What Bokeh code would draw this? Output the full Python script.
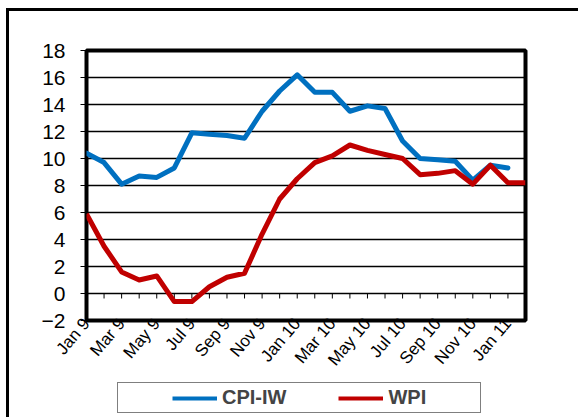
from bokeh.plotting import figure
from bokeh.layouts import column
from bokeh.models import Legend, LegendItem, FixedTicker
from bokeh.embed import file_html
from bokeh.resources import INLINE

# ---- data ----
tick_labels = ["Jan 9", "Mar 9", "May 9", "Jul 9", "Sep 9", "Nov 9",
               "Jan 10", "Mar 10", "May 10", "Jul 10", "Sep 10", "Nov 10", "Jan 11"]
cpi_iw = [10.4, 9.7, 8.1, 8.7, 8.6, 9.3, 11.9, 11.8, 11.7, 11.5, 13.5, 15.0, 16.2,
          14.9, 14.9, 13.5, 13.9, 13.7, 11.3, 10.0, 9.9, 9.8, 8.4, 9.5, 9.3]
wpi = [5.9, 3.5, 1.6, 1.0, 1.3, -0.6, -0.6, 0.5, 1.2, 1.5, 4.4, 7.0, 8.5,
       9.7, 10.2, 11.0, 10.6, 10.3, 10.0, 8.8, 8.9, 9.1, 8.1, 9.5, 8.2, 8.2]
y_ticks = [-2, 0, 2, 4, 6, 8, 10, 12, 14, 16, 18]
series_names = ["CPI-IW", "WPI"]
series_colors = ["#0070C0", "#C00000"]

n_months = len(wpi)
month_idx = list(range(n_months))
FONT = "Liberation Sans"
frame_styles = {"margin-left": "6px", "border-left": "3px solid black"}
BORDER_L, BORDER_R = 77, 56

# ---------------- main chart ----------------
p = figure(width=572, height=367, output_backend="svg", toolbar_location=None,
           x_range=(0, n_months - 1), y_range=(y_ticks[0], y_ticks[-1]),
           min_border_left=BORDER_L, min_border_right=BORDER_R, min_border_top=39,
           min_border_bottom=55)
p.styles = dict(frame_styles, **{"margin-top": "8px", "border-top": "3px solid black"})
p.background_fill_color = "white"
p.border_fill_color = "white"
p.outline_line_color = "black"
p.outline_line_width = 4

p.xgrid.visible = False
p.ygrid.ticker = FixedTicker(ticks=y_ticks)
p.ygrid.grid_line_color = "black"
p.ygrid.grid_line_width = 1.5

p.yaxis.ticker = FixedTicker(ticks=y_ticks)
p.yaxis.axis_line_color = None
p.yaxis.major_tick_out = 6
p.yaxis.major_tick_in = 0
p.yaxis.major_tick_line_color = "black"
p.yaxis.minor_tick_line_color = None
p.yaxis.major_label_standoff = 15
p.yaxis.major_label_text_font = FONT
p.yaxis.major_label_text_font_size = "21px"
p.yaxis.major_label_text_color = "black"

label_pos = month_idx[::2]
p.xaxis.ticker = FixedTicker(ticks=label_pos)
p.xaxis.major_label_overrides = {i: lab for i, lab in zip(label_pos, tick_labels)}
p.xaxis.major_label_orientation = 0.87
p.xaxis.axis_line_color = None
p.xaxis.major_tick_out = 0
p.xaxis.major_tick_in = 0
p.xaxis.minor_tick_line_color = None
p.xaxis.major_label_standoff = 0
p.xaxis.major_label_text_font = FONT
p.xaxis.major_label_text_font_size = "17px"
p.xaxis.major_label_text_color = "black"

# month tick marks hanging from the zero line
p.segment(x0=month_idx, y0=[0] * n_months, x1=month_idx, y1=[-0.37] * n_months,
          line_color="black", line_width=1)

p.line(month_idx[:len(cpi_iw)], cpi_iw, line_color=series_colors[0], line_width=5,
       line_join="round", line_cap="round")
p.line(month_idx, wpi, line_color=series_colors[1], line_width=5,
       line_join="round", line_cap="butt")

# ---------------- legend strip ----------------
lg = figure(width=572, height=42, output_backend="svg", toolbar_location=None,
            x_range=(0, 1), y_range=(0, 1), x_axis_type=None, y_axis_type=None,
            min_border_left=BORDER_L, min_border_right=BORDER_R, min_border_top=0,
            min_border_bottom=0)
lg.styles = frame_styles
lg.xgrid.visible = False
lg.ygrid.visible = False
lg.outline_line_color = None
lg.background_fill_color = "white"
lg.border_fill_color = "white"

# legend-only renderers: their data lie outside the strip's ranges
items = []
for name, col in zip(series_names, series_colors):
    r = lg.line(x=[5, 6], y=[5, 6], line_color=col, line_width=4)
    items.append(LegendItem(label=name, renderers=[r]))
pad = lg.line(x=[5, 6], y=[5, 6], line_alpha=0)
spacer = lambda: LegendItem(label=" ", renderers=[pad])
legend = Legend(items=[spacer(), items[0], spacer(), items[1], spacer()],
                orientation="horizontal", location=(31, 4), padding=3, margin=0,
                spacing=1, glyph_width=45, label_standoff=5, label_width=0,
                label_text_font=FONT, label_text_font_style="bold",
                label_text_font_size="20px", border_line_color="black",
                border_line_width=1, background_fill_color="white",
                background_fill_alpha=1)
lg.add_layout(legend, "center")

layout = column(p, lg, spacing=0)
open("out.html", "w").write(file_html(layout, INLINE))
